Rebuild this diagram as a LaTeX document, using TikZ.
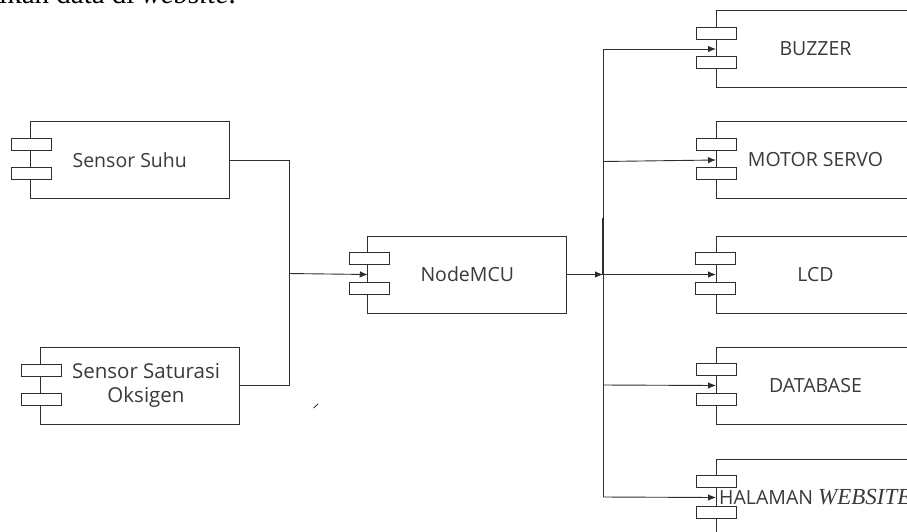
\documentclass[tikz,border=0pt]{standalone}
\usepackage{fontspec}
\setmainfont{Liberation Serif}
\newfontfamily\labelfont{Open Sans}
\usetikzlibrary{arrows.meta}
\definecolor{ink}{HTML}{2E2E2E}
\definecolor{txt}{HTML}{3A3A3A}
\tikzset{
  compbox/.style={draw=ink,line width=0.9pt,fill=white,minimum width=199pt,minimum height=77pt,inner sep=0pt,outer sep=0pt,font=\labelfont\fontsize{19.5}{24}\selectfont,text=txt,align=center},
  portbox/.style={draw=ink,line width=0.9pt,fill=white,minimum width=40pt,minimum height=12pt,inner sep=0pt,outer sep=0pt},
  wire/.style={draw=ink,line width=0.9pt},
  arrowwire/.style={wire,-{Latex[length=8pt,width=6.5pt]}},
  freelabel/.style={inner sep=0pt,font=\labelfont\fontsize{20.5}{24}\selectfont,text=txt,align=center}
}
\begin{document}
\begin{tikzpicture}[x=1pt,y=-1pt]
\useasboundingbox (0,0) rectangle (907,531);
\clip (0,0) rectangle (907,531);
\fill[white] (0,0) rectangle (907,531);
\node[anchor=base west,inner sep=0pt,font=\fontsize{29}{34}\selectfont,text=black] (caption) at (-1,3.5) {ikan data di \textit{website}.};
% left and centre components
\node[compbox] (suhu) at (129.75,160) {Sensor Suhu};
\node[portbox] (suhuA) at (31.5,144.5) {};
\node[portbox] (suhuB) at (31.5,173.5) {};
\node[compbox] (saturasi) at (139.5,386) {};
\node[portbox] (satA) at (41,370) {};
\node[portbox] (satB) at (41,399) {};
\node[freelabel] (satlabel) at (146,385) {Sensor Saturasi\\Oksigen};
\node[compbox] (mcu) at (467.25,274.5) {NodeMCU};
\node[portbox] (mcuA) at (369,258.5) {};
\node[portbox] (mcuB) at (369,288) {};
% right components
\node[compbox] (buzzer) at (815.5,49) {BUZZER};
\node[portbox] (buzA) at (716.5,33) {};
\node[portbox] (buzB) at (716.5,62) {};
\node[compbox] (servo) at (815.5,160) {MOTOR SERVO};
\node[portbox] (serA) at (716.5,144.5) {};
\node[portbox] (serB) at (716.5,173.5) {};
\node[compbox] (lcd) at (815.5,274.5) {LCD};
\node[portbox] (lcdA) at (715.5,258.5) {};
\node[portbox] (lcdB) at (715.5,288) {};
\node[compbox] (db) at (815.5,385.5) {DATABASE};
\node[portbox] (dbA) at (716.5,369.5) {};
\node[portbox] (dbB) at (716.5,399) {};
\node[compbox] (web) at (815.5,497.5) {};
\node[portbox] (webA) at (716.5,481.5) {};
\node[portbox] (webB) at (716.5,512) {};
\node[freelabel,anchor=west,font=\labelfont\fontsize{19.5}{24}\selectfont] (weblabel) at (719,497.5) {HALAMAN {\fontspec{Liberation Serif}\itshape\fontsize{23}{24}\selectfont WEBSITE}};
% junctions
\coordinate (inTop) at (289,160);
\coordinate (inBot) at (289,385);
\coordinate (inMid) at (289,273.5);
\coordinate (busTop) at (603,49);
\coordinate (busServo) at (603,161.5);
\coordinate (busMid) at (603,274.5);
\coordinate (busDb) at (603,385);
\coordinate (busBot) at (603,497);
\coordinate (busThick) at (603,218);
\coordinate (tickA) at (313.5,408);
\coordinate (tickB) at (318,404);
% connectors
\draw[wire] (suhu.east |- inTop) -- (inTop) -- (inBot) -- (saturasi.east |- inBot);
\draw[arrowwire] (inMid) -- (mcu.west);
\draw[arrowwire] (mcu.east) -- (busMid);
\draw[wire] (busTop) -- (busBot);
\draw[wire,line width=2pt] (busThick) -- (busMid);
\draw[arrowwire] (busTop) -- (buzzer.west);
\draw[arrowwire] (busServo) -- (servo.west);
\draw[arrowwire] (busMid) -- (lcd.west);
\draw[arrowwire] (busDb) -- (db.west);
\draw[arrowwire] (busBot) -- (web.west);
\draw[ink,line width=0.8pt] (tickA) -- (tickB);
\end{tikzpicture}
\end{document}
